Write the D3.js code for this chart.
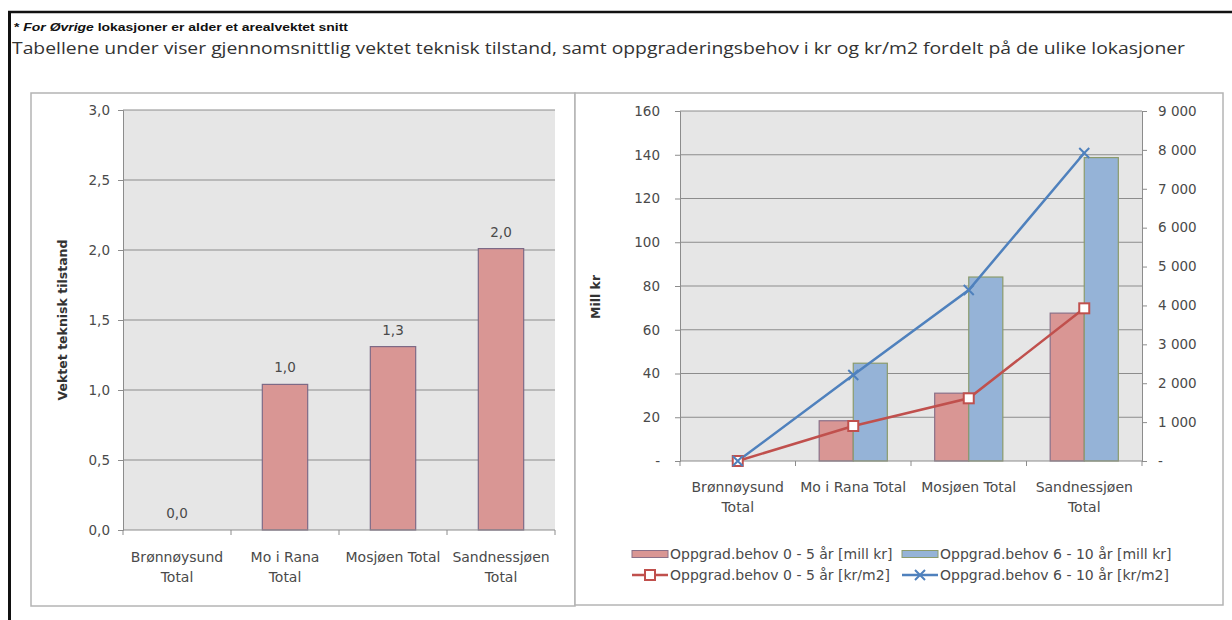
<!DOCTYPE html>
<html>
<head>
<meta charset="utf-8">
<script src="https://cdn.jsdelivr.net/npm/d3@7"></script>
<style>
  body { margin: 0; background: #fff; }
  svg text { font-family: "DejaVu Sans", sans-serif; }
</style>
</head>
<body>
<svg id="chart" width="1232" height="620"></svg>
<script>
// values
const categories = ["Brønnøysund Total", "Mo i Rana Total", "Mosjøen Total", "Sandnessjøen Total"]
const leftLabels = [["Brønnøysund", "Total"], ["Mo i Rana", "Total"], ["Mosjøen Total"], ["Sandnessjøen", "Total"]]
const rightLabels = [["Brønnøysund", "Total"], ["Mo i Rana Total"], ["Mosjøen Total"], ["Sandnessjøen", "Total"]]
const tilstand = [0.0, 1.04, 1.31, 2.01]
const leftTicks = [0, 0.5, 1, 1.5, 2, 2.5, 3]
const mill05 = [0, 18.4, 31.0, 67.6]
const mill610 = [0, 44.7, 84.1, 138.7]
const krm05 = [0, 900, 1612, 3926]
const krm610 = [0, 2211, 4397, 7920]
const millTicks = [0, 20, 40, 60, 80, 100, 120, 140, 160]
const krmTicks = [0, 1000, 2000, 3000, 4000, 5000, 6000, 7000, 8000, 9000]
const legendNames = [
  "Oppgrad.behov 0 - 5 år [mill kr]",
  "Oppgrad.behov 6 - 10 år [mill kr]",
  "Oppgrad.behov 0 - 5 år [kr/m2]",
  "Oppgrad.behov 6 - 10 år [kr/m2]"
]

const RED_FILL = "#d99694", RED_LINE = "#c0504d"
const BLUE_FILL = "#95b3d7", BLUE_LINE = "#4f81bd"
const TXT = "#4a4a4a"

const nb = d3.formatLocale({ decimal: ",", thousands: "\u2009", grouping: [3], currency: ["", ""] })
const fmt1 = nb.format(".1f")
const fmtK = (v) => (v === 0 ? "-" : nb.format(",")(v).replace("\u2009", " "))

const svg = d3.select("#chart")

// page frame + heading texts
svg.append("line").attr("x1", 8).attr("x2", 1232).attr("y1", 12).attr("y2", 12)
  .attr("stroke", "#111").attr("stroke-width", 2.5)
svg.append("line").attr("x1", 9.5).attr("x2", 9.5).attr("y1", 11).attr("y2", 620)
  .attr("stroke", "#111").attr("stroke-width", 3)

const note = svg.append("text").attr("x", 14).attr("y", 31)
  .attr("textLength", 334).attr("lengthAdjust", "spacingAndGlyphs")
  .style("font-family", "'Liberation Sans Narrow', 'Liberation Sans', sans-serif")
  .style("font-size", "10.5px").style("font-weight", "600").attr("fill", "#111")
note.append("tspan").text("* ")
note.append("tspan").style("font-style", "italic").text("For Øvrige")
note.append("tspan").text(" lokasjoner er alder et arealvektet snitt")

svg.append("text").attr("x", 12).attr("y", 54)
  .attr("textLength", 1173).attr("lengthAdjust", "spacingAndGlyphs")
  .style("font-family", "'Open Sans', sans-serif").style("font-size", "16px")
  .attr("fill", "#333")
  .text("Tabellene under viser gjennomsnittlig vektet teknisk tilstand, samt oppgraderingsbehov i kr og kr/m2 fordelt på de ulike lokasjoner")

// panels
svg.append("rect").attr("x", 31).attr("y", 93).attr("width", 544).attr("height", 513)
  .attr("fill", "#fff").attr("stroke", "#b4b4b4").attr("stroke-width", 1.5)
svg.append("rect").attr("x", 575).attr("y", 93).attr("width", 648).attr("height", 512)
  .attr("fill", "#fff").attr("stroke", "#b4b4b4").attr("stroke-width", 1.5)

function catLabels(g, x, labels, y0) {
  labels.forEach((lines, i) => {
    const t = g.append("text").attr("text-anchor", "middle")
      .attr("x", x(categories[i]) + x.bandwidth() / 2).attr("y", y0)
      .style("font-size", "14px").attr("fill", TXT)
    lines.forEach((s, j) => t.append("tspan").attr("x", x(categories[i]) + x.bandwidth() / 2)
      .attr("dy", j === 0 ? 0 : 20).text(s))
  })
}

// ---------- left chart ----------
{
  const L = { left: 123, right: 555, top: 110, bottom: 530 }
  const g = svg.append("g")
  const x = d3.scaleBand().domain(categories).range([L.left, L.right]).paddingInner(0.58).paddingOuter(0.29)
  const xc = d3.scaleBand().domain(categories).range([L.left, L.right])
  const y = d3.scaleLinear().domain([0, 3]).range([L.bottom, L.top])

  g.append("rect").attr("x", L.left).attr("y", L.top).attr("width", L.right - L.left)
    .attr("height", L.bottom - L.top).attr("fill", "#e6e6e6")
  g.selectAll(".grid").data(leftTicks.slice(1)).join("line")
    .attr("x1", L.left).attr("x2", L.right).attr("y1", (d) => y(d)).attr("y2", (d) => y(d))
    .attr("stroke", "#8c8c8c")

  const ya = g.append("g").attr("transform", `translate(${L.left},0)`)
    .call(d3.axisLeft(y).tickValues(leftTicks).tickFormat(fmt1).tickSize(5).tickPadding(8))
  ya.select(".domain").attr("stroke", "#8c8c8c")
  ya.selectAll(".tick line").attr("stroke", "#8c8c8c")
  ya.selectAll("text").style("font-size", "13.5px").attr("fill", TXT).style("font-family", "'DejaVu Sans', sans-serif")

  g.selectAll(".bar").data(tilstand).join("rect")
    .attr("x", (d, i) => x(categories[i])).attr("width", x.bandwidth())
    .attr("y", (d) => y(d)).attr("height", (d) => y(0) - y(d))
    .attr("fill", RED_FILL).attr("stroke", "#7d6a86").attr("stroke-width", 1.2)

  g.selectAll(".lbl").data(tilstand).join("text")
    .attr("x", (d, i) => x(categories[i]) + x.bandwidth() / 2).attr("y", (d) => y(d) - 12)
    .attr("text-anchor", "middle").style("font-size", "13.5px").attr("fill", TXT)
    .text((d) => fmt1(d))

  const xa = g.append("g").attr("transform", `translate(0,${L.bottom})`)
  xa.append("line").attr("x1", L.left).attr("x2", L.right).attr("stroke", "#8c8c8c")
  xa.selectAll("line.t").data(categories.map((c) => xc(c)).concat([L.right])).join("line")
    .attr("class", "t").attr("x1", (d) => d).attr("x2", (d) => d).attr("y1", 0).attr("y2", 5)
    .attr("stroke", "#8c8c8c")
  catLabels(g, xc, leftLabels, 562)

  g.append("text").attr("transform", `translate(67,320) rotate(-90)`).attr("text-anchor", "middle")
    .style("font-size", "12.5px").style("font-weight", "bold").attr("fill", "#333")
    .text("Vektet teknisk tilstand")
}

// ---------- right chart ----------
{
  const R = { left: 680, right: 1142, top: 111, bottom: 461 }
  const g = svg.append("g")
  const x = d3.scaleBand().domain(categories).range([R.left, R.right]).paddingInner(0.41).paddingOuter(0.205)
  const xc = d3.scaleBand().domain(categories).range([R.left, R.right])
  const xs = d3.scaleBand().domain([0, 1]).range([0, x.bandwidth()])
  const y = d3.scaleLinear().domain([0, 160]).range([R.bottom, R.top])
  const y2 = d3.scaleLinear().domain([0, 9000]).range([R.bottom, R.top])

  g.append("rect").attr("x", R.left).attr("y", R.top).attr("width", R.right - R.left)
    .attr("height", R.bottom - R.top).attr("fill", "#e6e6e6")
  g.selectAll(".grid").data(millTicks.slice(1)).join("line")
    .attr("x1", R.left).attr("x2", R.right).attr("y1", (d) => y(d)).attr("y2", (d) => y(d))
    .attr("stroke", "#8c8c8c")

  const ya = g.append("g").attr("transform", `translate(${R.left},0)`)
    .call(d3.axisLeft(y).tickValues(millTicks).tickFormat((v) => (v === 0 ? "-" : v)).tickSize(5).tickPadding(15))
  const yb = g.append("g").attr("transform", `translate(${R.right},0)`)
    .call(d3.axisRight(y2).tickValues(krmTicks).tickFormat(fmtK).tickSize(5).tickPadding(11))
  ;[ya, yb].forEach((a) => {
    a.select(".domain").attr("stroke", "#8c8c8c")
    a.selectAll(".tick line").attr("stroke", "#8c8c8c")
    a.selectAll("text").style("font-size", "13.5px").attr("fill", TXT).style("font-family", "'DejaVu Sans', sans-serif")
  })

  const series = [
    { vals: mill05, fill: RED_FILL, stroke: "#8a7088" },
    { vals: mill610, fill: BLUE_FILL, stroke: "#8b9b6c" }
  ]
  series.forEach((s, k) => {
    g.selectAll(".bar" + k).data(s.vals).join("rect")
      .attr("x", (d, i) => x(categories[i]) + xs(k)).attr("width", xs.bandwidth())
      .attr("y", (d) => y(d)).attr("height", (d) => y(0) - y(d))
      .attr("fill", s.fill).attr("stroke", s.stroke).attr("stroke-width", 1.2)
  })

  const xa = g.append("g").attr("transform", `translate(0,${R.bottom})`)
  xa.append("line").attr("x1", R.left).attr("x2", R.right).attr("stroke", "#8c8c8c")
  xa.selectAll("line.t").data(categories.map((c) => xc(c)).concat([R.right])).join("line")
    .attr("class", "t").attr("x1", (d) => d).attr("x2", (d) => d).attr("y1", 0).attr("y2", 5)
    .attr("stroke", "#8c8c8c")

  const cx = (i) => xc(categories[i]) + xc.bandwidth() / 2
  const line = d3.line().x((d, i) => cx(i)).y((d) => y2(d))
  g.append("path").datum(krm05).attr("d", line).attr("fill", "none")
    .attr("stroke", RED_LINE).attr("stroke-width", 2.5)
  g.append("path").datum(krm610).attr("d", line).attr("fill", "none")
    .attr("stroke", BLUE_LINE).attr("stroke-width", 2.5)
  g.selectAll(".sq").data(krm05).join("rect")
    .attr("x", (d, i) => cx(i) - 5).attr("y", (d) => y2(d) - 5).attr("width", 10).attr("height", 10)
    .attr("fill", "#fff").attr("stroke", RED_LINE).attr("stroke-width", 2)
  g.selectAll(".xm").data(krm610).join("path")
    .attr("d", (d, i) => { const a = cx(i), b = y2(d); return `M${a - 5},${b - 5}L${a + 5},${b + 5}M${a - 5},${b + 5}L${a + 5},${b - 5}` })
    .attr("stroke", BLUE_LINE).attr("stroke-width", 2)

  catLabels(g, xc, rightLabels, 492)

  g.append("text").attr("transform", `translate(600,297) rotate(-90)`).attr("text-anchor", "middle")
    .style("font-size", "12.5px").style("font-weight", "bold").attr("fill", "#333").text("Mill kr")

  // legend
  const lg = g.append("g").style("font-size", "14px")
  const items = [
    { x: 632, y: 554, kind: "bar", fill: RED_FILL, stroke: "#8a7088" },
    { x: 902, y: 554, kind: "bar", fill: BLUE_FILL, stroke: "#8b9b6c" },
    { x: 632, y: 575, kind: "sq", color: RED_LINE },
    { x: 902, y: 575, kind: "x", color: BLUE_LINE }
  ]
  items.forEach((it, i) => {
    if (it.kind === "bar") {
      lg.append("rect").attr("x", it.x).attr("y", it.y - 3.5).attr("width", 36).attr("height", 7)
        .attr("fill", it.fill).attr("stroke", it.stroke)
    } else {
      lg.append("line").attr("x1", it.x).attr("x2", it.x + 36).attr("y1", it.y).attr("y2", it.y)
        .attr("stroke", it.color).attr("stroke-width", 2.5)
      const m = it.x + 18
      if (it.kind === "sq") {
        lg.append("rect").attr("x", m - 5).attr("y", it.y - 5).attr("width", 10).attr("height", 10)
          .attr("fill", "#fff").attr("stroke", it.color).attr("stroke-width", 2)
      } else {
        lg.append("path").attr("d", `M${m - 5},${it.y - 5}L${m + 5},${it.y + 5}M${m - 5},${it.y + 5}L${m + 5},${it.y - 5}`)
          .attr("stroke", it.color).attr("stroke-width", 2)
      }
    }
    lg.append("text").attr("x", it.x + 38).attr("y", it.y + 5).attr("fill", TXT).text(legendNames[i])
  })
}
</script>
</body>
</html>
